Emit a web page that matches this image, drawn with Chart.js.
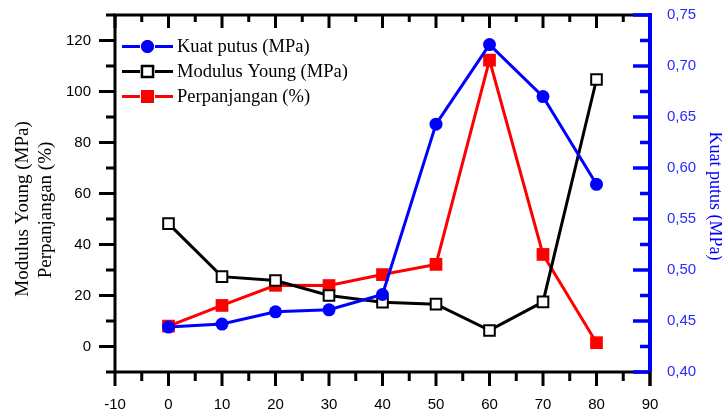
<!DOCTYPE html>
<html>
<head>
<meta charset="utf-8">
<script src="https://cdn.jsdelivr.net/npm/chart.js@4.4.1/dist/chart.umd.min.js"></script>
<style>
  html, body { margin: 0; padding: 0; background: #fff; }
  #wrap { width: 722px; height: 412px; }
</style>
</head>
<body>
<div id="wrap"><canvas id="myChart"></canvas></div>
<script>
// data
const konsentrasi = [0, 10, 20, 30, 40, 50, 60, 70, 80];
const kuatPutus = [0.444, 0.447, 0.459, 0.461, 0.476, 0.643, 0.721, 0.670, 0.584];
const modulusYoung = [48.2, 27.4, 25.9, 20.0, 17.4, 16.6, 6.3, 17.5, 104.7];
const perpanjangan = [8.0, 16.1, 24.0, 23.9, 28.2, 32.2, 112.3, 36.1, 1.5];

const xTicks = [-10, 0, 10, 20, 30, 40, 50, 60, 70, 80, 90];
const yTicks = [0, 20, 40, 60, 80, 100, 120];
const y1Ticks = [0.40, 0.45, 0.50, 0.55, 0.60, 0.65, 0.70, 0.75];

const BLUE = '#0000ff';
const RED = '#ff0000';
const serif = '"Liberation Serif", "DejaVu Serif", serif';
const sans = '"Liberation Sans", Arial, sans-serif';

function pts(ys) {
  return konsentrasi.map((x, i) => ({x: x, y: ys[i]}));
}

function noPad(s) {
  s.paddingTop = 0; s.paddingBottom = 0;
  s.paddingLeft = 0; s.paddingRight = 0;
}

// frame, ticks, titles and legend
const framePlugin = {
  id: 'frame',
  afterDraw(chart) {
    const ctx = chart.ctx;
    const a = chart.chartArea;
    const sx = chart.scales.x, sy = chart.scales.y, sy1 = chart.scales.y1;
    ctx.save();
    ctx.lineCap = 'butt';

    // black frame: left, top, bottom
    ctx.strokeStyle = '#000';
    ctx.lineWidth = 3;
    ctx.beginPath();
    ctx.moveTo(a.left, a.bottom + 1.5);
    ctx.lineTo(a.left, a.top - 1.5);
    ctx.moveTo(a.left - 1.5, a.top);
    ctx.lineTo(a.right, a.top);
    ctx.moveTo(a.left - 1.5, a.bottom);
    ctx.lineTo(a.right, a.bottom);
    ctx.stroke();

    // left ticks (outward)
    ctx.beginPath();
    for (let v = -10; v <= 130; v += 10) {
      const y = sy.getPixelForValue(v);
      const len = (v % 20 === 0) ? 16 : 9;
      ctx.moveTo(a.left, y);
      ctx.lineTo(a.left - len, y);
    }
    // top ticks (inward) and bottom ticks (outward)
    for (let v = -10; v <= 90; v += 5) {
      const x = sx.getPixelForValue(v);
      const major = v % 10 === 0;
      ctx.moveTo(x, a.top);
      ctx.lineTo(x, a.top + (major ? 13 : 7));
      ctx.moveTo(x, a.bottom);
      ctx.lineTo(x, a.bottom + (major ? 14 : 9));
    }
    ctx.stroke();

    // blue right axis with inward ticks
    ctx.strokeStyle = BLUE;
    ctx.lineWidth = 4;
    ctx.beginPath();
    ctx.moveTo(a.right, a.top - 2);
    ctx.lineTo(a.right, a.bottom);
    ctx.stroke();
    ctx.lineWidth = 3.5;
    ctx.beginPath();
    for (let k = 0; k <= 14; k++) {
      const v = 0.40 + k * 0.025;
      const y = sy1.getPixelForValue(v);
      const len = (k % 2 === 0) ? 17 : 10;
      ctx.moveTo(a.right, y);
      ctx.lineTo(a.right - len, y);
    }
    ctx.stroke();
    // black bit of the 90 tick under the blue axis
    ctx.strokeStyle = '#000';
    ctx.lineWidth = 3;
    ctx.beginPath();
    ctx.moveTo(a.right, a.bottom);
    ctx.lineTo(a.right, a.bottom + 14);
    ctx.stroke();

    // axis titles
    ctx.fillStyle = '#000';
    ctx.font = '19px ' + serif;
    ctx.textAlign = 'center';
    ctx.textBaseline = 'middle';
    ctx.save();
    ctx.translate(23, 209);
    ctx.rotate(-Math.PI / 2);
    ctx.fillText('Modulus Young (MPa)', 0, 0);
    ctx.restore();
    ctx.save();
    ctx.translate(46, 210);
    ctx.rotate(-Math.PI / 2);
    ctx.fillText('Perpanjangan (%)', 0, 0);
    ctx.restore();
    ctx.save();
    ctx.fillStyle = BLUE;
    ctx.font = '18px ' + serif;
    ctx.translate(715, 196);
    ctx.rotate(Math.PI / 2);
    ctx.fillText('Kuat putus (MPa)', 0, 0);
    ctx.restore();

    // legend
    const rows = [46.5, 71.5, 96.5];
    ctx.font = '18.5px ' + serif;
    ctx.textAlign = 'left';
    chart.data.datasets.forEach((ds, i) => {
      const y = rows[i];
      ctx.strokeStyle = ds.borderColor;
      ctx.lineWidth = 3;
      ctx.beginPath();
      ctx.moveTo(122, y); ctx.lineTo(140, y);
      ctx.moveTo(155, y); ctx.lineTo(173, y);
      ctx.stroke();
      Chart.helpers.drawPoint(ctx, {
        pointStyle: ds.pointStyle,
        radius: ds.pointRadius,
        borderWidth: ds.pointBorderWidth,
        rotation: 0
      }, 147.5, y);
      ctx.fillStyle = ds.pointBackgroundColor;
      ctx.strokeStyle = ds.pointBorderColor;
      ctx.lineWidth = ds.pointBorderWidth;
      ctx.fill();
      if (ds.pointBorderWidth > 0) ctx.stroke();
      ctx.fillStyle = '#000';
      ctx.fillText(ds.label, 177, y + 1);
    });
    ctx.restore();
  }
};

const ctx = document.getElementById('myChart').getContext('2d');
const myChart = new Chart(ctx, {
  type: 'line',
  data: {
    datasets: [
      {
        label: 'Kuat putus (MPa)',
        data: pts(kuatPutus),
        yAxisID: 'y1',
        borderColor: BLUE,
        borderWidth: 3,
        pointStyle: 'circle',
        pointRadius: 6.5,
        pointBackgroundColor: BLUE,
        pointBorderColor: BLUE,
        pointBorderWidth: 0,
        tension: 0
      },
      {
        label: 'Modulus Young (MPa)',
        data: pts(modulusYoung),
        yAxisID: 'y',
        borderColor: '#000',
        borderWidth: 3,
        pointStyle: 'rect',
        pointRadius: 7.5,
        pointBackgroundColor: '#fff',
        pointBorderColor: '#000',
        pointBorderWidth: 2,
        tension: 0
      },
      {
        label: 'Perpanjangan (%)',
        data: pts(perpanjangan),
        yAxisID: 'y',
        borderColor: RED,
        borderWidth: 3,
        pointStyle: 'rect',
        pointRadius: 9,
        pointBackgroundColor: RED,
        pointBorderColor: RED,
        pointBorderWidth: 0,
        tension: 0
      }
    ]
  },
  options: {
    responsive: true,
    maintainAspectRatio: false,
    animation: false,
    layout: { padding: { top: 15, left: 0, right: 0, bottom: 0 } },
    plugins: { legend: { display: false }, tooltip: { enabled: false } },
    scales: {
      x: {
        type: 'linear',
        min: -10, max: 90,
        grid: { display: false, drawTicks: false },
        border: { display: false },
        afterBuildTicks: s => { s.ticks = xTicks.map(v => ({value: v})); },
        afterFit: s => { s.height = 40; noPad(s); },
        ticks: { color: '#000', font: { family: sans, size: 15 }, padding: 24, maxRotation: 0 }
      },
      y: {
        position: 'left',
        min: -10, max: 130,
        grid: { display: false, drawTicks: false },
        border: { display: false },
        afterBuildTicks: s => { s.ticks = yTicks.map(v => ({value: v})); },
        afterFit: s => { s.width = 115; noPad(s); },
        ticks: { color: '#000', font: { family: sans, size: 15 }, padding: 24 }
      },
      y1: {
        position: 'right',
        min: 0.40, max: 0.75,
        grid: { display: false, drawTicks: false },
        border: { display: false },
        afterBuildTicks: s => { s.ticks = y1Ticks.map(v => ({value: v})); },
        afterFit: s => { s.width = 72; noPad(s); },
        ticks: {
          color: '#2a2aff',
          font: { family: sans, size: 15 },
          padding: 17,
          callback: v => Number(v).toFixed(2).replace('.', ',')
        }
      }
    }
  },
  plugins: [framePlugin]
});
</script>
</body>
</html>
